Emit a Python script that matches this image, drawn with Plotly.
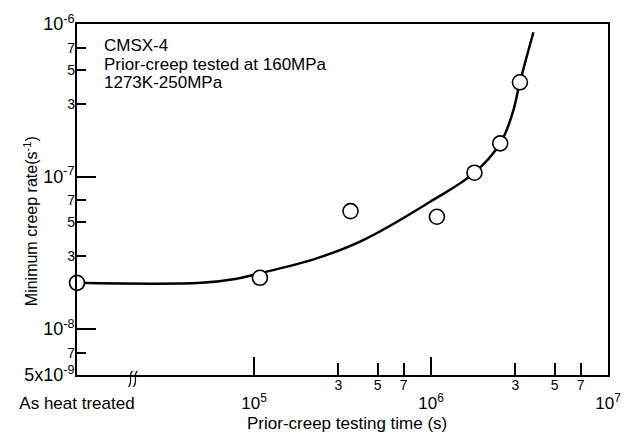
import math
import plotly.graph_objects as go

# ---- data ----
as_heat_treated_time = 1e4  # position used for the "As heat treated" specimen
pt_time = [1e4, 1.08e5, 3.51e5, 1.08e6, 1.76e6, 2.46e6, 3.18e6]
pt_rate = [2.01e-8, 2.17e-8, 5.93e-8, 5.45e-8, 1.06e-7, 1.65e-7, 4.15e-7]

curve_time = [1e4, 5.05e4, 7.83e4, 1.013e5, 2.28e5, 4.17e5,
              9.84e5, 1.76e6, 2.46e6, 2.89e6, 3.18e6, 3.79e6]
curve_rate = [2.01e-8, 2.01e-8, 2.13e-8, 2.28e-8, 2.92e-8, 3.85e-8,
              6.81e-8, 1.06e-7, 1.65e-7, 2.61e-7, 4.15e-7, 8.83e-7]

x_major_vals = [as_heat_treated_time, 1e5, 1e6, 1e7]
x_major_text = ["As heat treated", "10<sup>5</sup>", "10<sup>6</sup>", "10<sup>7</sup>"]
x_minor_vals = [3e5, 5e5, 7e5, 3e6, 5e6, 7e6]
x_minor_text = ["3", "5", "7", "3", "5", "7"]

y_major_vals = [5e-9, 1e-8, 1e-7, 1e-6]
y_major_text = ["5x10<sup>-9</sup>", "10<sup>-8</sup>", "10<sup>-7</sup>", "10<sup>-6</sup>"]
y_minor_vals = [7e-9, 3e-8, 5e-8, 7e-8, 3e-7, 5e-7, 7e-7]
y_minor_text = ["7", "3", "5", "7", "3", "5", "7"]

info_lines = ["CMSX-4", "Prior-creep tested at 160MPa", "1273K-250MPa"]

# ---- layout geometry ----
W, H = 633, 433
L, R, T, B = 77, 613, 20, 375
xr = [4, 7]
yr = [math.log10(5e-9), -6]

def px(x):
    return (x - L) / (R - L)

def py(y):
    return (B - y) / (B - T)

FONT = "Liberation Sans, Arial, Helvetica, sans-serif"

fig = go.Figure()
fig.add_trace(go.Scatter(x=curve_time, y=curve_rate, mode="lines",
                         line=dict(color="black", width=2.5, shape="spline", smoothing=1.1),
                         showlegend=False, hoverinfo="skip"))
fig.add_trace(go.Scatter(x=pt_time, y=pt_rate, mode="markers",
                         marker=dict(symbol="circle", size=15, color="white",
                                     line=dict(color="black", width=1.6)),
                         cliponaxis=False, showlegend=False))
fig.add_trace(go.Scatter(x=[], y=[], xaxis="x2", yaxis="y2", showlegend=False))

common = dict(type="log", showgrid=False, zeroline=False, ticks="inside",
              tickcolor="black", tickwidth=1.5)

fig.update_layout(
    width=W, height=H,
    margin=dict(l=L, r=W - R, t=T, b=H - B),
    paper_bgcolor="white", plot_bgcolor="white",
    font=dict(family=FONT, color="black", size=15),
    xaxis=dict(**common, range=xr, tickmode="array", tickvals=x_major_vals,
               ticktext=x_major_text, ticklen=18, showline=True, linecolor="black",
               linewidth=2, mirror=True, tickfont=dict(size=17), ticklabelstandoff=12),
    xaxis2=dict(**common, range=xr, overlaying="x", anchor="y2", tickmode="array",
                tickvals=x_minor_vals, ticktext=x_minor_text, ticklen=12,
                showline=False, tickfont=dict(size=14), ticklabelstandoff=0),
    yaxis=dict(**common, range=yr, tickmode="array", tickvals=y_major_vals,
               ticktext=y_major_text, ticklen=19, showline=True, linecolor="black",
               linewidth=2, mirror=True, tickfont=dict(size=18), ticklabelstandoff=-3),
    yaxis2=dict(**common, range=yr, overlaying="y", anchor="x2", tickmode="array",
                tickvals=y_minor_vals, ticktext=y_minor_text, ticklen=9,
                showline=False, tickfont=dict(size=14), ticklabelstandoff=1),
)

for line_text, yc in zip(info_lines, (42, 61, 79)):
    fig.add_annotation(xref="paper", yref="paper", x=px(102), y=py(yc),
                       xanchor="left", yanchor="middle", showarrow=False,
                       text=line_text, font=dict(size=17))
fig.add_annotation(xref="paper", yref="paper", x=px(30), y=py(219),
                   xanchor="center", yanchor="middle", textangle=-90, showarrow=False,
                   text="Minimum creep rate(s<sup>-1</sup>)", font=dict(size=16))
fig.add_annotation(xref="paper", yref="paper", x=px(350), y=py(424),
                   xanchor="center", yanchor="middle", showarrow=False,
                   text="Prior-creep testing time (s)", font=dict(size=17))

# axis break mark
for x0 in (131, 136):
    path = "M {a},{b} C {c},{d} {e},{f} {g},{h}".format(
        a=px(x0 + 2), b=py(371), c=px(x0 - 3), d=py(375),
        e=px(x0 + 3), f=py(382), g=px(x0 - 2), h=py(387))
    fig.add_shape(type="path", xref="paper", yref="paper", path=path,
                  line=dict(color="black", width=1.2))

fig.write_html("out.html")
